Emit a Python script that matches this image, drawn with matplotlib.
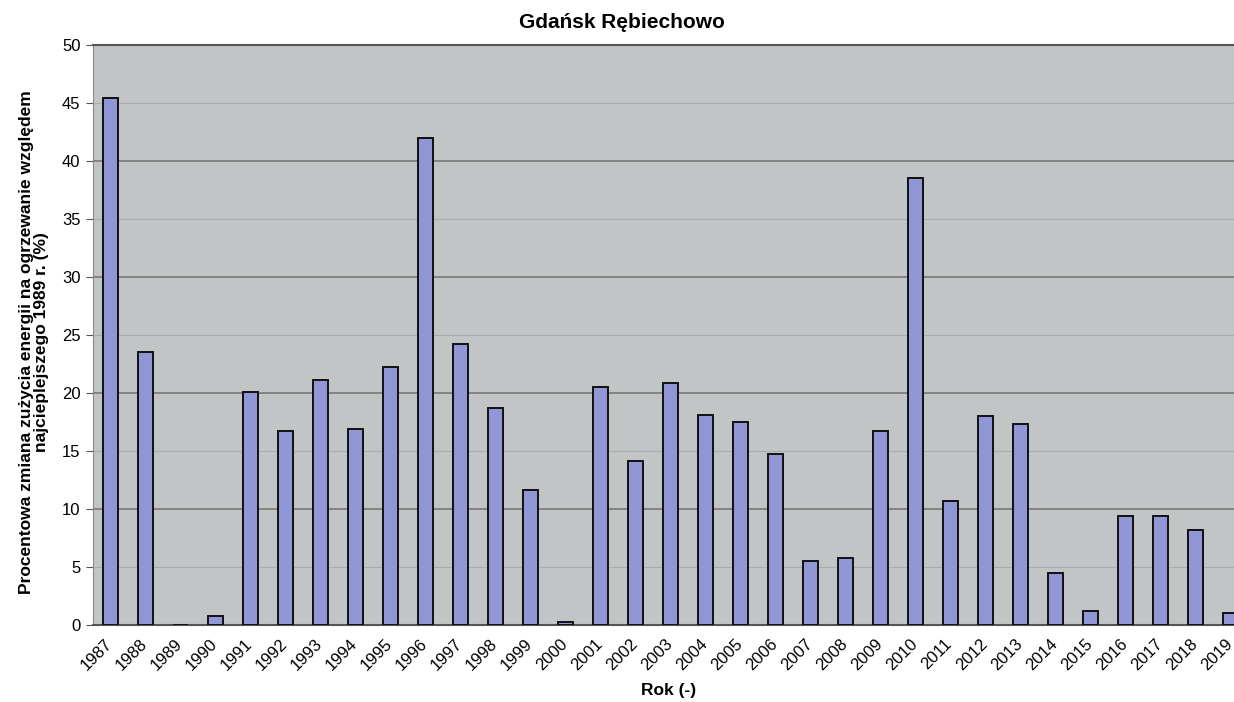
import matplotlib.pyplot as plt
import matplotlib.transforms as mtransforms
import numpy as np

years = list(range(1987, 2020))
change = [45.4, 23.5, 0.0, 0.8, 20.1, 16.75, 21.1, 16.9, 22.2, 42.0,
          24.2, 18.7, 11.6, 0.3, 20.5, 14.1, 20.9, 18.1, 17.5, 14.7,
          5.5, 5.8, 16.7, 38.5, 10.7, 18.0, 17.3, 4.5, 1.2, 9.4,
          9.4, 8.2, 1.0]
y_ticks = list(range(0, 51, 5))

plt.rcParams['font.family'] = ['Liberation Sans', 'DejaVu Sans']

fig = plt.figure(figsize=(12.34, 7.02), dpi=100)
# plot area runs past the right edge of the figure on purpose
ax = fig.add_axes([93 / 1234, 1 - 625 / 702, 1155 / 1234, 580 / 702])
ax.set_facecolor('#c2c5c5')

x = np.arange(len(years))
ax.bar(x, change, width=0.42, color='#9196d6', edgecolor='#111111',
       linewidth=1.4, zorder=3)

ax.set_xlim(-0.5, len(years) - 0.5)
ax.set_ylim(0, 50)
ax.set_yticks(y_ticks)
ax.set_yticklabels([str(v) for v in y_ticks], fontsize=12)
ax.set_xticks(x)
ax.set_xticklabels([str(y) for y in years], rotation=45, ha='right',
                   rotation_mode='anchor', fontsize=12)
ax.tick_params(axis='x', length=0, pad=8)
ax.tick_params(axis='y', length=5, color='#555555', pad=4)

# nudge the rotated year labels a little to the left
shift = mtransforms.ScaledTranslation(-6 / 100, 0, fig.dpi_scale_trans)
for lbl in ax.get_xticklabels():
    lbl.set_transform(lbl.get_transform() + shift)

for v in y_ticks[1:-1]:
    ax.axhline(v, color='#7d7d7d' if v % 10 == 0 else '#a9adad',
               linewidth=1.3 if v % 10 == 0 else 0.8, zorder=1)

for side in ['top', 'bottom']:
    ax.spines[side].set_color('#555555')
    ax.spines[side].set_linewidth(1.5)
ax.spines['left'].set_color('#888888')
ax.spines['right'].set_visible(False)

fig.text(622 / 1234, 1 - 22 / 702, 'Gdańsk Rębiechowo', ha='center',
         va='center', fontsize=15, fontweight='bold')
fig.text(669 / 1234, 1 - 690 / 702, 'Rok (-)', ha='center', va='center',
         fontsize=12.5, fontweight='bold')
fig.text(34 / 1234, 1 - 342 / 702,
         'Procentowa zmiana zużycia energii na ogrzewanie względem\n'
         'najcieplejszego 1989 r. (%)',
         ha='center', va='center', rotation=90, fontsize=12.5,
         fontweight='bold', linespacing=1.05)

fig.savefig('out.png', dpi=100, facecolor='white')
